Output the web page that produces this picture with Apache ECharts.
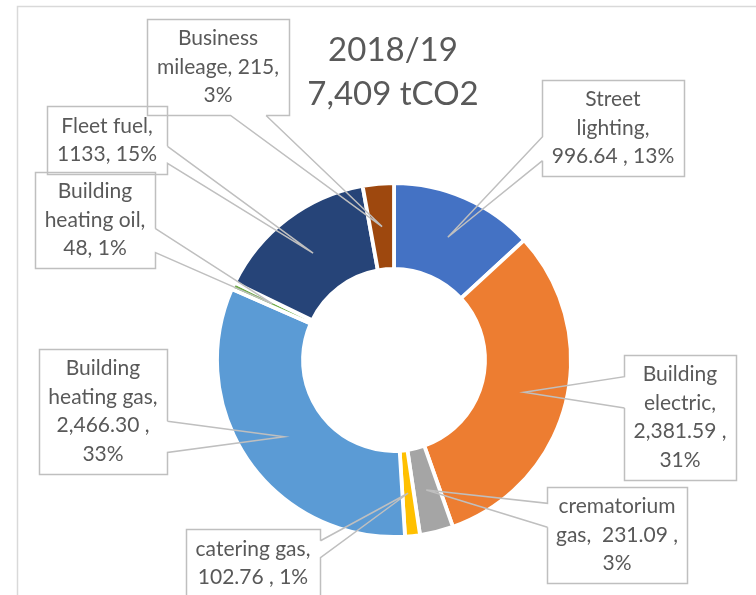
<!DOCTYPE html>
<html>
<head>
<meta charset="utf-8">
<script src="https://cdn.jsdelivr.net/npm/echarts@6/dist/echarts.min.js"></script>
<style>
html,body{margin:0;padding:0;background:#fff;}
#main{width:756px;height:595px;}
</style>
</head>
<body>
<div id="main"></div>
<script>
// 数据
var names = ['Street lighting', 'Building electric', 'crematorium gas', 'catering gas',
    'Building heating gas', 'Building heating oil', 'Fleet fuel', 'Business mileage'];
var values = [996.64, 2381.59, 231.09, 102.76, 2466.30, 48, 1133, 215];
var valueText = ['996.64 ', '2,381.59 ', '231.09 ', '102.76 ', '2,466.30 ', '48', '1133', '215'];
// label wording, wrapped like the boxes
var labelTpl = [
    'Street\nlighting,\n{v}, {p}%',
    'Building\nelectric,\n{v},\n{p}%',
    'crematorium\ngas,  {v},\n{p}%',
    'catering gas,\n{v}, {p}%',
    'Building\nheating gas,\n{v},\n{p}%',
    'Building\nheating oil,\n{v}, {p}%',
    'Fleet fuel,\n{v}, {p}%',
    'Business\nmileage, {v},\n{p}%'
];
var colors = ['#4472C4', '#ED7D31', '#A5A5A5', '#FFC000', '#5B9BD5', '#70AD47', '#264478', '#9E480E'];
var titleText = '2018/19\n7,409 tCO2';

// layout (callout box centres)
var calloutAt = [[613, 128], [680, 417], [617, 535], [253, 563], [103, 411], [95, 220], [107, 140], [218, 67]];
var CX = 394, CY = 360, R_IN = 91, R_OUT = 177;

function lerp(a, b, t) {
    return [a[0] + (b[0] - a[0]) * t, a[1] + (b[1] - a[1]) * t];
}
// excel style callout: box outline with a wedge pointing at tip
function callout(x0, y0, x1, y1, tip) {
    var ex = tip[0] > x1 ? tip[0] - x1 : (tip[0] < x0 ? x0 - tip[0] : 0);
    var ey = tip[1] > y1 ? tip[1] - y1 : (tip[1] < y0 ? y0 - tip[1] : 0);
    var corners = [[x0, y0], [x1, y0], [x1, y1], [x0, y1]];
    var side;
    if (ex >= ey) {
        side = tip[0] > x1 ? 1 : 3;
    } else {
        side = tip[1] > y1 ? 2 : 0;
    }
    var s = corners[side], e = corners[(side + 1) % 4];
    var f = (side % 2 === 0) ? (tip[0] - s[0]) / (e[0] - s[0]) : (tip[1] - s[1]) / (e[1] - s[1]);
    f = Math.max(0.29, Math.min(0.71, f));
    var a = lerp(s, e, f - 0.125), b = lerp(s, e, f + 0.125);
    var pts = [a, tip, b];
    for (var j = 1; j <= 4; j++) {
        pts.push(corners[(side + j) % 4]);
    }
    pts.push(a);
    return pts;
}

var sliceData = names.map(function (n, i) {
    return {name: n, value: values[i], itemStyle: {color: colors[i]}};
});
var labelData = names.map(function (n, i) {
    return {name: n, value: values[i]};
});

var chart = echarts.init(document.getElementById('main'));
chart.setOption({
    animation: false,
    title: {
        text: titleText,
        left: 393,
        top: 28,
        padding: 0,
        textAlign: 'center',
        textStyle: {
            fontFamily: 'Lato',
            fontSize: 33,
            fontWeight: 'normal',
            color: '#595959',
            lineHeight: 44
        }
    },
    graphic: [{
        type: 'rect',
        silent: true,
        z: -10,
        shape: {x: 17.5, y: 6.5, width: 800, height: 700},
        style: {fill: 'none', stroke: '#D9D9D9', lineWidth: 1.5}
    }],
    series: [{
        // 圆环
        type: 'pie',
        z: 2,
        center: [CX, CY],
        radius: [R_IN, R_OUT],
        startAngle: 90,
        clockwise: true,
        itemStyle: {borderColor: '#fff', borderWidth: 3.8},
        label: {show: false},
        labelLine: {show: false},
        emphasis: {disabled: true},
        data: sliceData
    }, {
        // 标注框 (transparent copy drawn on top so the callouts reach into the ring)
        type: 'pie',
        z: 5,
        silent: true,
        center: [CX, CY],
        radius: [R_IN, R_OUT],
        startAngle: 90,
        clockwise: true,
        avoidLabelOverlap: false,
        itemStyle: {color: 'rgba(0,0,0,0)', borderWidth: 0},
        label: {
            show: true,
            position: 'outside',
            fontFamily: 'Lato',
            fontSize: 21,
            lineHeight: 28.5,
            color: '#595959',
            align: 'center',
            backgroundColor: 'transparent',
            padding: [5.5, 9.5],
            formatter: function (p) {
                return labelTpl[p.dataIndex]
                    .replace('{v}', valueText[p.dataIndex])
                    .replace('{p}', Math.round(p.percent));
            }
        },
        labelLine: {
            show: true,
            length: 10,
            length2: 10,
            lineStyle: {color: '#BFBFBF', width: 1.5}
        },
        labelLayout: function (params) {
            var i = params.dataIndex;
            var w = params.labelRect.width, h = params.labelRect.height;
            var c = calloutAt[i];
            var x0 = Math.round(c[0] - w / 2) + 0.5, y0 = Math.round(c[1] - h / 2) + 0.5;
            var x1 = Math.round(c[0] + w / 2) + 0.5, y1 = Math.round(c[1] + h / 2) + 0.5;
            var p = params.labelLinePoints[0];
            var k = (R_IN + R_OUT) / 2 / R_OUT;
            var tip = [CX + (p[0] - CX) * k, CY + (p[1] - CY) * k];
            return {
                x: c[0],
                y: c[1],
                align: 'center',
                verticalAlign: 'middle',
                labelLinePoints: callout(x0, y0, x1, y1, tip)
            };
        },
        emphasis: {disabled: true},
        data: labelData
    }]
});
window.onresize = function () {
    chart.resize();
};
</script>
</body>
</html>
